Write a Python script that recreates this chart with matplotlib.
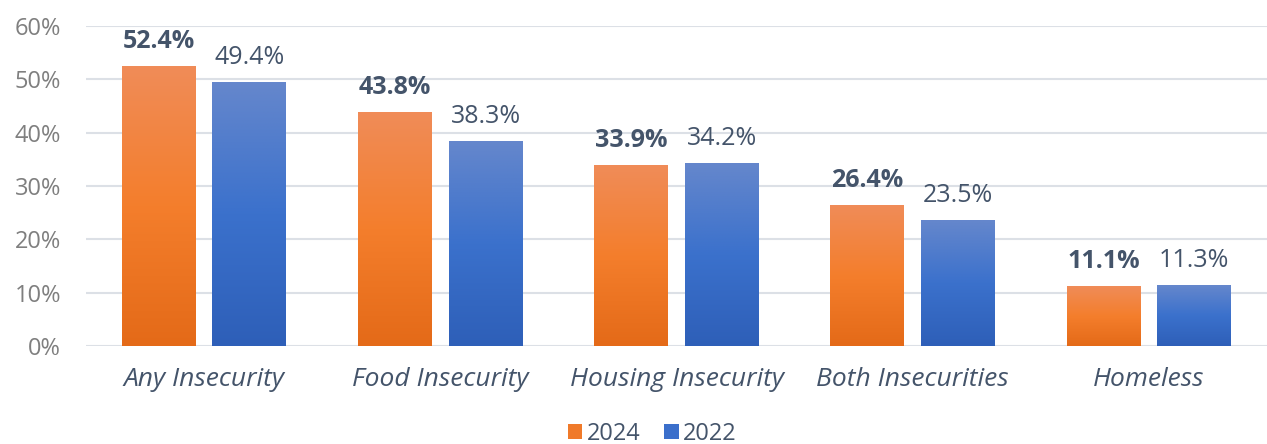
import matplotlib
matplotlib.use("Agg")
import matplotlib.pyplot as plt
import numpy as np
from matplotlib.colors import LinearSegmentedColormap
from matplotlib.patches import Patch

categories = ["Any Insecurity", "Food Insecurity", "Housing Insecurity", "Both Insecurities", "Homeless"]
series_names = ["2024", "2022"]
values_2024 = [52.4, 43.8, 33.9, 26.4, 11.1]
values_2022 = [49.4, 38.3, 34.2, 23.5, 11.3]
yticks = [0, 10, 20, 30, 40, 50, 60]

plt.rcParams['font.family'] = ['Open Sans', 'DejaVu Sans']

W, H = 1267, 444
fig = plt.figure(figsize=(W/100, H/100), dpi=100)
ax = fig.add_axes([86/W, 1-346/H, (1267-86)/W, (346-26)/H])

orange_cmap = LinearSegmentedColormap.from_list("o", ["#E46A18", "#F47E2C", "#F08C58"])
blue_cmap = LinearSegmentedColormap.from_list("b", ["#2E5FB8", "#3B71CC", "#6587CC"])

x = np.arange(len(categories))
bw = 0.313
off = 0.192
grad = np.linspace(0, 1, 256).reshape(-1, 1)

text_col = "#44546A"
for i in range(len(categories)):
    for vals, cmap, sign, bold in [(values_2024, orange_cmap, -1, True), (values_2022, blue_cmap, 1, False)]:
        v = vals[i]
        xc = x[i] + sign * off
        ax.imshow(grad, extent=[xc - bw/2, xc + bw/2, 0, v], origin='lower',
                  cmap=cmap, aspect='auto', zorder=2, interpolation='bilinear')
        ax.text(xc, v + 3.5, f"{v:.1f}%", ha='center', va='baseline', fontsize=18,
                color=text_col, fontweight='bold' if bold else 'normal', zorder=3,
                clip_on=False)

ax.set_xlim(-0.5, len(categories) - 0.5)
ax.set_ylim(0, 60)
ax.set_yticks(yticks)
ax.set_yticklabels([f"{t}%" for t in yticks], fontsize=17, color="#7F7F7F")
ax.set_xticks(x)
ax.set_xticklabels(categories, fontsize=19, style='italic', color=text_col)
ax.tick_params(axis='both', length=0)
ax.tick_params(axis='y', pad=18)
ax.tick_params(axis='x', pad=15)
ax.grid(axis='y', color="#DCE0E6", linewidth=1.5, zorder=0)
ax.set_axisbelow(True)
for s in ax.spines.values():
    s.set_visible(False)

handles = [Patch(facecolor="#F07A2A", edgecolor='none'), Patch(facecolor="#3B6FCB", edgecolor='none')]
fig.legend(handles, series_names, loc='center', bbox_to_anchor=(0.515, 434/H*0 + (1-434/H)), ncol=2,
           frameon=False, fontsize=17, labelcolor=text_col, handlelength=0.6, handleheight=0.6,
           handletextpad=0.2, columnspacing=1.0)

fig.savefig("out.png", dpi=100)
